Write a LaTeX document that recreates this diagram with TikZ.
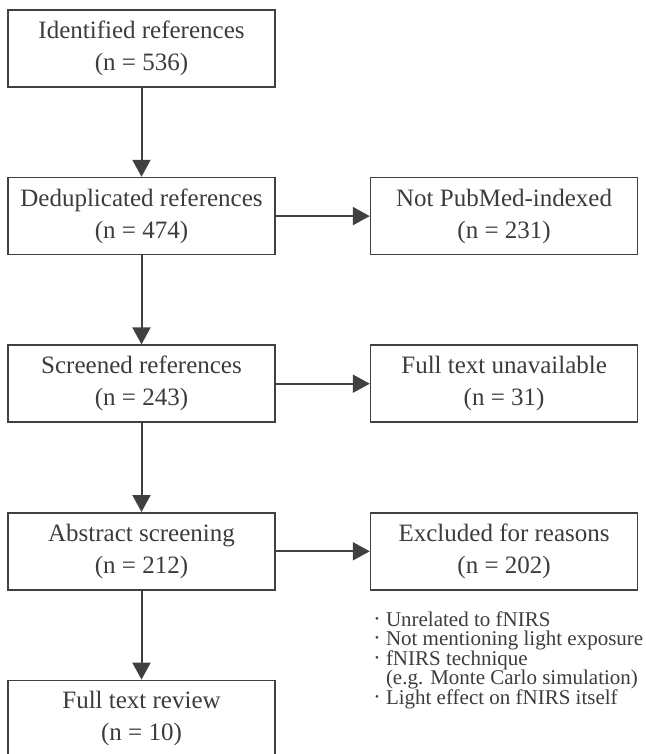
\documentclass[tikz,border=0pt]{standalone}
\usepackage{fontspec}
\setmainfont{Liberation Serif}
\usepackage{xcolor}
\definecolor{boxgray}{HTML}{404040}
\definecolor{textgray}{HTML}{3C3C3C}
\usetikzlibrary{arrows.meta, positioning}
\tikzset{
  flowbox/.style={rectangle, draw=boxgray, line width=1.6pt, fill=white, text=textgray, align=center,
                  minimum width=267pt, minimum height=77pt, inner sep=2pt, font=\fontsize{25}{32}\selectfont},
  flowarr/.style={-{Triangle[length=17pt, width=18pt]}, line width=2pt, color=boxgray},
  reasonlist/.style={align=left, text=textgray, inner sep=0pt, font=\fontsize{21}{19.4}\selectfont},
}
\newcommand{\rbul}{\makebox[11pt][l]{\raisebox{4pt}{\fontsize{11}{11}\selectfont •}}}

\begin{document}
\begin{tikzpicture}[x=1pt, y=1pt, node distance=89pt and 94pt]
  \useasboundingbox (0,0) rectangle (645,-754);
  \node[flowbox] (ident) at (141.5,-48.5) {Identified references\\(n = 536)};
  \node[flowbox, below=of ident] (dedup) {Deduplicated references\\(n = 474)};
  \node[flowbox, below=of dedup] (screen) {Screened references\\(n = 243)};
  \node[flowbox, below=of screen] (abstr) {Abstract screening\\(n = 212)};
  \node[flowbox, below=of abstr] (full) {Full text review\\(n = 10)};
  \node[flowbox, right=of dedup] (pubmed) {Not PubMed-indexed\\(n = 231)};
  \node[flowbox, right=of screen] (unavail) {Full text unavailable\\(n = 31)};
  \node[flowbox, right=of abstr] (excl) {Excluded for reasons\\(n = 202)};
  \node[reasonlist, below=21pt of excl.south west, anchor=north west, xshift=5pt] (reasons)
    {\rbul Unrelated to fNIRS\\
     \rbul Not mentioning light exposure\\
     \rbul fNIRS technique\\
     \hspace*{11pt}(e.g. Monte Carlo simulation)\\
     \rbul Light effect on fNIRS itself};
  \draw[flowarr] (ident)--(dedup); \draw[flowarr] (dedup)--(screen); \draw[flowarr] (screen)--(abstr); \draw[flowarr] (abstr)--(full);
  \draw[flowarr] (dedup)--(pubmed); \draw[flowarr] (screen)--(unavail); \draw[flowarr] (abstr)--(excl);
\end{tikzpicture}
\end{document}
